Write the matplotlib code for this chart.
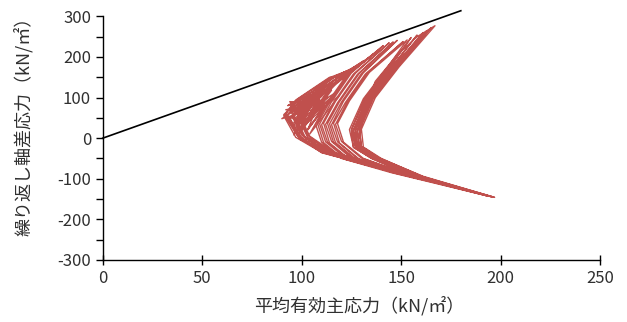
import numpy as np
import matplotlib
matplotlib.use("Agg")
import matplotlib.pyplot as plt

plt.rcParams['font.family'] = ['Noto Sans CJK JP', 'DejaVu Sans']
plt.rcParams['axes.unicode_minus'] = False

# Linea de estado critico
cs_p = [0, 180]
cs_q = [0, 314]

# Carga inicial
init_p = [129, 131, 137, 148, 158]
init_q = [0, 60, 140, 205, 250]

# Picos de compresion (uno por ciclo, mas el final)
peak_p = [167, 165, 163, 161, 158, 155, 153, 151, 148, 146, 144, 141,
          139, 136, 134, 131, 128, 124, 121]
peak_q = [277, 272, 265, 260, 254, 248, 242, 238, 241, 237, 235, 228,
          218, 207, 198, 190, 178, 168, 152]

# Picos de extension
tip_p = [197, 195, 193, 196, 191, 194, 192, 189, 195, 190, 187, 193,
         190, 186, 194, 188, 185, 191]
tip_q = [-146, -144, -141, -145, -139, -143, -140, -136, -144, -137, -133, -142,
         -138, -132, -143, -135, -131, -139]

# Puntos intermedios de cada rama (bajada / subida alternadas)
arm_u_p = [149, 148, 148, 147, 147, 146, 146, 145, 145, 144, 144, 143,
           134, 133, 132, 131, 130, 129, 128, 127, 126, 125, 124, 123,
           122, 121, 121, 120, 119, 118, 118, 117, 116, 115, 115, 114]
arm_u_q = [176, 174, 177, 173, 175, 172, 176, 174, 173, 175, 172, 174,
           162, 160, 158, 161, 159, 160, 157, 160, 158, 161, 159, 158,
           152, 150, 153, 149, 151, 150, 148, 152, 150, 149, 151, 150]
arm_v_p = [137, 136, 136, 135, 135, 134, 134, 133, 133, 132, 132, 131,
           124, 123, 122, 121, 120, 119, 118, 117, 116, 115, 114, 113,
           108, 107, 106, 105, 104, 103, 102, 101, 100, 99, 98, 97]
arm_v_q = [100, 98, 102, 99, 101, 97, 100, 98, 102, 99, 100, 97,
           92, 90, 88, 91, 89, 90, 87, 91, 88, 90, 89, 88,
           97, 95, 98, 93, 96, 94, 97, 92, 95, 93, 96, 94]
arm_n_p = [130, 129, 129, 128, 128, 127, 127, 126, 126, 125, 125, 124,
           118, 117, 116, 115, 114, 113, 112, 111, 110, 109, 108, 107,
           99, 98, 98, 97, 96, 95, 95, 94, 93, 92, 92, 91]
arm_n_q = [22, 20, 24, 18, 21, 19, 23, 20, 18, 22, 19, 21,
           36, 34, 37, 33, 35, 36, 34, 37, 33, 35, 36, 34,
           56, 52, 60, 50, 58, 54, 62, 48, 57, 53, 60, 55]
arm_l_p = [131, 130, 130, 129, 129, 128, 128, 128, 127, 127, 126, 126,
           121, 120, 119, 118, 117, 116, 115, 114, 113, 112, 111, 110,
           104, 103, 103, 102, 101, 101, 100, 100, 99, 99, 98, 97]
arm_l_q = [-22, -20, -24, -21, -23, -22, -20, -24, -22, -21, -23, -22,
           -10, -8, -12, -9, -11, -10, -8, -12, -10, -9, -11, -10,
           5, 2, 7, 0, 6, 3, 8, 1, 4, -2, 5, 2]
arm_m_p = [140, 139, 139, 138, 138, 137, 137, 137, 136, 136, 135, 135,
           131, 130, 129, 128, 127, 126, 125, 124, 123, 122, 121, 120,
           116, 115, 115, 114, 113, 113, 112, 112, 111, 111, 110, 110]
arm_m_q = [-50, -49, -52, -50, -51, -49, -50, -52, -50, -51, -49, -50,
           -50, -49, -52, -50, -51, -49, -50, -52, -50, -49, -51, -50,
           -35, -34, -37, -35, -36, -34, -35, -37, -35, -34, -36, -35]
arm_d_p = [161, 161, 160, 160, 159, 159, 159, 158, 158, 157, 157, 156,
           151, 150, 150, 149, 149, 148, 148, 147, 147, 146, 146, 145,
           142, 142, 141, 141, 140, 140, 139, 139, 138, 138, 137, 137]
arm_d_q = [-95, -94, -96, -95, -94, -96, -95, -94, -96, -95, -94, -95,
           -85, -84, -86, -85, -84, -86, -85, -84, -86, -85, -84, -85,
           -72, -71, -73, -72, -71, -73, -72, -71, -73, -72, -71, -72]

# Ruido en la zona de menor presion efectiva
blob_p = [92, 110, 94, 113, 93, 108, 96, 116, 95, 111, 97, 118, 98, 106,
          99, 114, 101, 117, 100, 109, 103, 115, 102, 119, 104, 112,
          90, 105, 96, 100, 94, 107, 98,
          91, 100, 93, 104, 95, 108, 97, 112, 99, 115, 101, 117, 103, 110,
          96, 106, 98, 102, 94, 109, 92, 105, 97, 113]
blob_q = [55, 125, 70, 132, 45, 118, 38, 140, 62, 128, 25, 138, 50, 110,
          15, 120, 35, 112, 60, 95, 20, 100, 45, 105, 10, 80,
          48, 96, 30, 70, 82, 112, 5,
          58, 100, 80, 112, 48, 120, 30, 128, 12, 118, 40, 108, 22, 70,
          8, 95, 65, 35, 90, 85, 70, 60, 15, 100]

# Armar la trayectoria completa
path_p = list(init_p)
path_q = list(init_q)
for k in range(len(tip_p)):
    path_p.append(peak_p[k])
    path_q.append(peak_q[k])
    a = 2 * k
    path_p += [arm_u_p[a], arm_v_p[a], arm_n_p[a], arm_l_p[a], arm_m_p[a], arm_d_p[a]]
    path_q += [arm_u_q[a], arm_v_q[a], arm_n_q[a], arm_l_q[a], arm_m_q[a], arm_d_q[a]]
    path_p.append(tip_p[k])
    path_q.append(tip_q[k])
    b = 2 * k + 1
    path_p += [arm_d_p[b], arm_m_p[b], arm_l_p[b], arm_n_p[b], arm_v_p[b], arm_u_p[b]]
    path_q += [arm_d_q[b], arm_m_q[b], arm_l_q[b], arm_n_q[b], arm_v_q[b], arm_u_q[b]]
path_p.append(peak_p[-1])
path_q.append(peak_q[-1])

fig = plt.figure(figsize=(6.27, 3.22), dpi=100)
ax = fig.add_axes([0.164, 0.193, 0.793, 0.756])

ax.plot(path_p, path_q, color='#C0504D', linewidth=1.0)
ax.plot(blob_p, blob_q, color='#C0504D', linewidth=1.0)
ax.plot(cs_p, cs_q, color='black', linewidth=1.2, clip_on=False)

ax.set_xlim(0, 250)
ax.set_ylim(-300, 300)
ax.set_xticks(np.arange(0, 251, 50))
ax.set_yticks(np.arange(-300, 301, 100))
ax.set_yticks(np.arange(-250, 300, 100), minor=True)
ax.spines['top'].set_visible(False)
ax.spines['right'].set_visible(False)
for s in ['left', 'bottom']:
    ax.spines[s].set_linewidth(1.0)
ax.tick_params(axis='y', which='both', direction='out', length=5, width=1,
               labelsize=12, labelcolor='#303030')
ax.tick_params(axis='x', direction='inout', length=7, width=1,
               labelsize=12, labelcolor='#303030')

ax.set_xlabel('平均有効主応力（kN/㎡）', fontsize=13, color='#303030')
ax.set_ylabel('繰り返し軸差応力（kN/㎡）', fontsize=13, color='#303030')
ax.xaxis.set_label_coords(0.515, -0.15)
ax.yaxis.set_label_coords(-0.14, 0.565)

fig.savefig('out.png', dpi=100)
